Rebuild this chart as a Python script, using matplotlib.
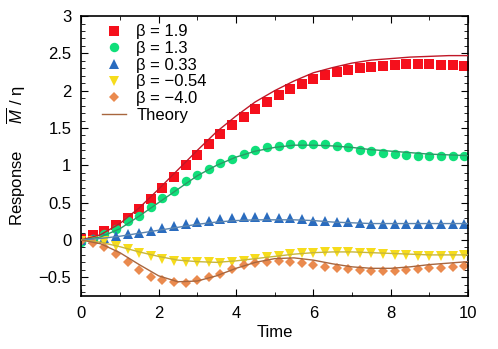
import numpy as np
import matplotlib
matplotlib.use('Agg')
import matplotlib.pyplot as plt
from matplotlib.ticker import MultipleLocator

plt.rcParams['font.family'] = ['Liberation Sans', 'DejaVu Sans']
plt.rcParams['mathtext.fontset'] = 'custom'
plt.rcParams['mathtext.it'] = 'Liberation Sans:italic'
plt.rcParams['mathtext.rm'] = 'Liberation Sans'

# simulation points, t = 0, 0.3, ..., 9.9
t_sim = np.arange(34) * 0.3
beta_19 = [0.01, 0.06, 0.12, 0.20, 0.30, 0.41, 0.55, 0.69, 0.84, 1.00, 1.14, 1.28,
           1.42, 1.54, 1.65, 1.75, 1.85, 1.94, 2.02, 2.09, 2.16, 2.21, 2.25, 2.28,
           2.30, 2.32, 2.33, 2.35, 2.36, 2.36, 2.36, 2.35, 2.34, 2.33]
beta_13 = [-0.03, 0.01, 0.08, 0.15, 0.25, 0.32, 0.44, 0.56, 0.66, 0.79, 0.87, 0.95,
           1.03, 1.09, 1.15, 1.21, 1.24, 1.26, 1.29, 1.29, 1.29, 1.28, 1.26, 1.24,
           1.21, 1.19, 1.17, 1.15, 1.14, 1.13, 1.13, 1.13, 1.13, 1.13]
beta_033 = [0.00, 0.01, 0.03, 0.05, 0.08, 0.10, 0.12, 0.16, 0.19, 0.21, 0.24, 0.26,
            0.28, 0.30, 0.31, 0.31, 0.31, 0.30, 0.29, 0.28, 0.26, 0.25, 0.24, 0.24,
            0.23, 0.22, 0.22, 0.22, 0.22, 0.22, 0.22, 0.22, 0.22, 0.22]
beta_m054 = [-0.01, -0.01, -0.02, -0.08, -0.12, -0.17, -0.21, -0.25, -0.28, -0.30, -0.30, -0.30,
             -0.31, -0.30, -0.28, -0.25, -0.23, -0.21, -0.19, -0.17, -0.17, -0.16, -0.16, -0.16,
             -0.17, -0.18, -0.19, -0.20, -0.20, -0.21, -0.21, -0.21, -0.21, -0.20]
beta_m40 = [-0.01, -0.04, -0.09, -0.19, -0.30, -0.40, -0.49, -0.54, -0.56, -0.57, -0.54, -0.50,
            -0.45, -0.39, -0.34, -0.31, -0.29, -0.28, -0.29, -0.31, -0.34, -0.36, -0.37, -0.39,
            -0.40, -0.41, -0.41, -0.41, -0.40, -0.39, -0.38, -0.37, -0.36, -0.35]

# theory curves, t = 0, 0.5, ..., 10
t_th = np.arange(21) * 0.5
th_19 = [0, 0.07, 0.22, 0.43, 0.68, 0.94, 1.20, 1.45, 1.66, 1.85, 2.00,
         2.13, 2.24, 2.31, 2.37, 2.41, 2.43, 2.45, 2.46, 2.47, 2.47]
th_13 = [0, 0.04, 0.15, 0.32, 0.50, 0.68, 0.86, 1.00, 1.11, 1.19, 1.24,
         1.27, 1.27, 1.26, 1.24, 1.21, 1.19, 1.17, 1.15, 1.14, 1.13]
th_033 = [0, 0.02, 0.05, 0.09, 0.13, 0.17, 0.21, 0.24, 0.26, 0.27, 0.27,
          0.27, 0.26, 0.24, 0.23, 0.22, 0.22, 0.22, 0.22, 0.22, 0.22]
th_m054 = [0, -0.03, -0.09, -0.16, -0.22, -0.27, -0.29, -0.30, -0.28, -0.25, -0.22,
           -0.19, -0.17, -0.16, -0.16, -0.17, -0.18, -0.19, -0.20, -0.20, -0.20]
th_m40 = [0, -0.05, -0.17, -0.33, -0.48, -0.56, -0.55, -0.48, -0.38, -0.30, -0.25,
          -0.24, -0.27, -0.32, -0.36, -0.38, -0.38, -0.36, -0.33, -0.31, -0.29]

labels = ['β = 1.9', 'β = 1.3', 'β = 0.33', 'β = −0.54', 'β = −4.0']
sims = [beta_19, beta_13, beta_033, beta_m054, beta_m40]
theories = [th_19, th_13, th_033, th_m054, th_m40]
markers = ['s', 'o', '^', 'v', 'D']
msizes = [6.5, 6.8, 6.5, 6.5, 5.2]
mcolors = ['#f5101c', '#10df7a', '#2a6cbf', '#f6dc1c', '#ea8a4e']
lcolors = ['#c01828', '#2a9a66', '#5a84b0', '#c8b63a', '#a8663e']

fig = plt.figure(figsize=(4.98, 3.49), dpi=100)
ax = fig.add_axes([0.163, 0.152, 0.777, 0.802])

for i in range(5):
    ax.plot(t_sim, sims[i], markers[i], color=mcolors[i], ms=msizes[i], mew=0,
            label=labels[i], zorder=2)
for i in range(5):
    ax.plot(t_th, theories[i], '-', color=lcolors[i], lw=1.0, zorder=3,
            label='Theory' if i == 4 else None)

ax.set_xlim(0, 10)
ax.set_ylim(-0.75, 3)
ax.xaxis.set_major_locator(MultipleLocator(2))
ax.xaxis.set_minor_locator(MultipleLocator(1))
ax.yaxis.set_major_locator(MultipleLocator(0.5))
ax.yaxis.set_minor_locator(MultipleLocator(0.1))
ax.tick_params(which='both', direction='in', top=True, right=True, labelsize=12)
ax.tick_params(which='major', length=5, width=0.8, pad=7)
ax.tick_params(which='minor', length=3, width=0.6)
for s in ax.spines.values():
    s.set_linewidth(1.2)
ax.set_yticks([-0.5, 0, 0.5, 1, 1.5, 2, 2.5, 3])
ax.set_yticklabels(['−0.5', '0', '0.5', '1', '1.5', '2', '2.5', '3'])

ax.set_xlabel('Time', fontsize=12, labelpad=3)
ax.set_ylabel(r'Response$\qquad\overline{M}$ / η', fontsize=12, labelpad=8)

ax.legend(loc='upper left', bbox_to_anchor=(0.054, 0.97), frameon=False,
          fontsize=12, borderpad=0, borderaxespad=0, handlelength=1.45,
          handletextpad=0.6, labelspacing=0.1)

fig.savefig('out.png', dpi=100)
